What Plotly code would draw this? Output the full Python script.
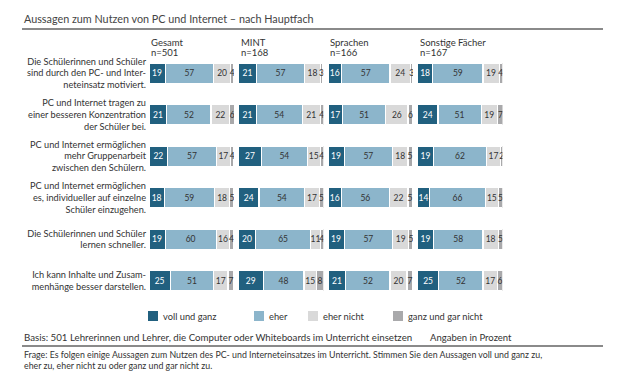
import plotly.graph_objects as go
from plotly.subplots import make_subplots

W, H = 620, 382

statements = [
    "Die Schülerinnen und Schüler<br>sind durch den PC- und Inter-<br>neteinsatz motiviert.",
    "PC und Internet tragen zu<br>einer besseren Konzentration<br>der Schüler bei.",
    "PC und Internet ermöglichen<br>mehr Gruppenarbeit<br>zwischen den Schülern.",
    "PC und Internet ermöglichen<br>es, individueller auf einzelne<br>Schüler einzugehen.",
    "Die Schülerinnen und Schüler<br>lernen schneller.",
    "Ich kann Inhalte und Zusam-<br>menhänge besser darstellen.",
]

groups = ["Gesamt", "MINT", "Sprachen", "Sonstige Fächer"]
group_n = ["n=501", "n=168", "n=166", "n=167"]
answers = ["voll und ganz", "eher", "eher nicht", "ganz und gar nicht"]

gesamt_voll = [19, 21, 22, 18, 19, 25]
gesamt_eher = [57, 52, 57, 59, 60, 51]
gesamt_ehernicht = [20, 22, 17, 18, 16, 17]
gesamt_gar = [4, 6, 4, 5, 4, 7]

mint_voll = [21, 21, 27, 24, 20, 29]
mint_eher = [57, 54, 54, 54, 65, 48]
mint_ehernicht = [18, 21, 15, 17, 11, 15]
mint_gar = [3, 4, 4, 5, 4, 8]

sprachen_voll = [16, 17, 19, 16, 19, 21]
sprachen_eher = [57, 51, 57, 56, 57, 52]
sprachen_ehernicht = [24, 26, 18, 22, 19, 20]
sprachen_gar = [3, 6, 5, 5, 5, 7]

sonstige_voll = [18, 24, 19, 14, 19, 25]
sonstige_eher = [59, 51, 62, 66, 58, 52]
sonstige_ehernicht = [19, 19, 17, 15, 18, 17]
sonstige_gar = [4, 7, 2, 5, 5, 6]

data = [
    [gesamt_voll, gesamt_eher, gesamt_ehernicht, gesamt_gar],
    [mint_voll, mint_eher, mint_ehernicht, mint_gar],
    [sprachen_voll, sprachen_eher, sprachen_ehernicht, sprachen_gar],
    [sonstige_voll, sonstige_eher, sonstige_ehernicht, sonstige_gar],
]

colors = ["#21607f", "#8cb5cb", "#d9d9d9", "#a9a9ab"]
text_colors = ["#ffffff", "#333333", "#333333", "#333333"]
FONT = "Lato"
TXT = "#333333"

fig = make_subplots(rows=1, cols=4, shared_yaxes=True)

for g in range(4):
    for a in range(4):
        fig.add_trace(
            go.Bar(
                y=statements,
                x=data[g][a],
                orientation="h",
                marker=dict(color=colors[a], line=dict(color="white", width=1.2)),
                text=data[g][a],
                texttemplate="%{text}",
                textposition="inside",
                insidetextanchor="middle",
                textangle=0,
                constraintext="none",
                insidetextfont=dict(family=FONT, size=8.5, color=text_colors[a]),
                name=answers[a],
                showlegend=False,
                hoverinfo="skip",
            ),
            row=1, col=g + 1,
        )

panel_starts = [149, 238.5, 328, 417.5]
panel_w = 85
row_top, row_bot = 52.5, 301.5

for g in range(4):
    ax = "xaxis" if g == 0 else f"xaxis{g+1}"
    fig.layout[ax].update(
        domain=[panel_starts[g] / W, (panel_starts[g] + panel_w) / W],
        range=[0, 100], visible=False, fixedrange=True,
    )
    ay = "yaxis" if g == 0 else f"yaxis{g+1}"
    fig.layout[ay].update(
        domain=[1 - row_bot / H, 1 - row_top / H],
        autorange="reversed",
        showgrid=False, zeroline=False, showline=False,
        ticks="", showticklabels=(g == 0),
        tickfont=dict(family=FONT, size=9.2, color=TXT),
        ticklabelstandoff=2, fixedrange=True,
    )
    fig.add_annotation(
        x=panel_starts[g] / W, y=1 - 42.5 / H, xref="paper", yref="paper",
        text=groups[g], showarrow=False, xanchor="left", yanchor="middle",
        font=dict(family=FONT, size=9.5, color=TXT),
    )
    fig.add_annotation(
        x=panel_starts[g] / W, y=1 - 52.5 / H, xref="paper", yref="paper",
        text=group_n[g], showarrow=False, xanchor="left", yanchor="middle",
        font=dict(family=FONT, size=9.5, color=TXT),
    )

fig.add_annotation(
    x=22 / W, y=1 - 19 / H, xref="paper", yref="paper",
    text="Aussagen zum Nutzen von PC und Internet – nach Hauptfach",
    showarrow=False, xanchor="left", yanchor="middle",
    font=dict(family=FONT, size=10.8, color="#444444"),
)
for yy in [29, 346]:
    fig.add_shape(type="line", xref="paper", yref="paper",
                  x0=22 / W, x1=603 / W, y0=1 - yy / H, y1=1 - yy / H,
                  line=dict(color="#8a8a8a", width=2))

leg_x = [148, 254, 308, 393]
for i, lab in enumerate(answers):
    x0 = leg_x[i]
    fig.add_shape(type="rect", xref="paper", yref="paper",
                  x0=x0 / W, x1=(x0 + 10) / W, y0=1 - 321 / H, y1=1 - 311 / H,
                  fillcolor=colors[i], line=dict(width=0))
    fig.add_annotation(
        x=(x0 + 13) / W, y=1 - 316 / H, xref="paper", yref="paper",
        text=lab, showarrow=False, xanchor="left", yanchor="middle",
        font=dict(family=FONT, size=9.3, color=TXT),
    )

fig.add_annotation(
    x=22 / W, y=1 - 337 / H, xref="paper", yref="paper",
    text="Basis: 501 Lehrerinnen und Lehrer, die Computer oder Whiteboards im Unterricht einsetzen",
    showarrow=False, xanchor="left", yanchor="middle",
    font=dict(family=FONT, size=9.7, color=TXT),
)
fig.add_annotation(
    x=428 / W, y=1 - 337 / H, xref="paper", yref="paper",
    text="Angaben in Prozent",
    showarrow=False, xanchor="left", yanchor="middle",
    font=dict(family=FONT, size=9.5, color=TXT),
)
fig.add_annotation(
    x=22 / W, y=1 - 347 / H, xref="paper", yref="paper",
    text="Frage: Es folgen einige Aussagen zum Nutzen des PC- und Interneteinsatzes im Unterricht. Stimmen Sie den Aussagen voll und ganz zu,<br>eher zu, eher nicht zu oder ganz und gar nicht zu.",
    showarrow=False, xanchor="left", yanchor="top", align="left",
    font=dict(family=FONT, size=8.8, color=TXT),
)

fig.update_layout(
    width=W, height=H,
    margin=dict(l=0, r=0, t=0, b=0),
    barmode="stack", bargap=0.52,
    plot_bgcolor="white", paper_bgcolor="white",
    font=dict(family=FONT, color=TXT),
    hovermode=False,
)

fig.write_html(
    "out.html",
    config={"displayModeBar": False, "staticPlot": True},
    post_script="document.body.style.margin='0';document.body.style.overflow='hidden';",
)
